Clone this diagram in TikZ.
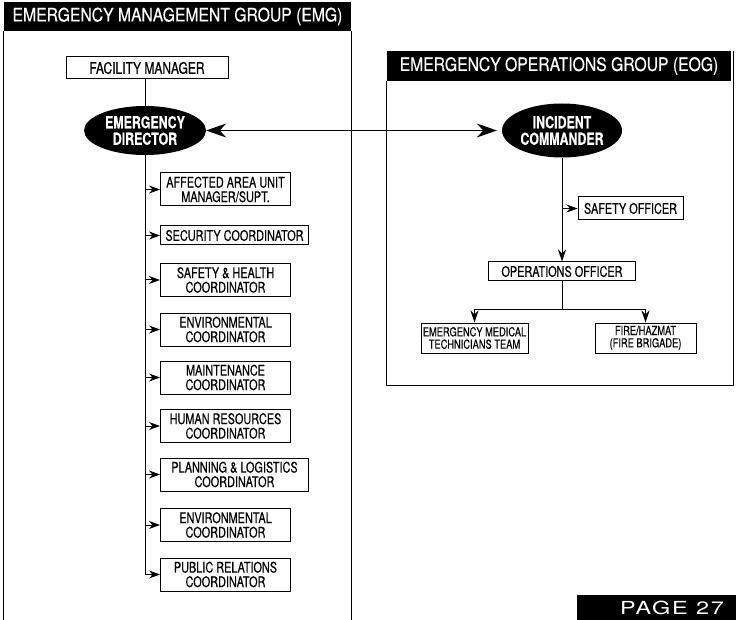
\documentclass[tikz,border=0pt]{standalone}
\usepackage{fontspec}
\setmainfont{TeX Gyre Heros}[FakeStretch=0.75,FakeBold=0.4]
\newfontfamily\headfont{TeX Gyre Heros}[FakeStretch=0.85,FakeBold=0.4]
\newfontfamily\pagefont{TeX Gyre Heros}[FakeStretch=1.3,LetterSpace=10]
\usetikzlibrary{arrows.meta,shapes.geometric}

\tikzset{
  grouphead/.style={fill=black, text=white, inner sep=0pt, font=\headfont\fontsize{18.5}{18.5}\selectfont},
  unitbox/.style={draw, line width=1pt, fill=white, align=center, inner sep=1pt,
    font=\fontsize{14.5}{14.5}\selectfont},
  chief/.style={ellipse, fill=black, text=white, align=center, inner sep=0pt,
    minimum width=122, minimum height=49, font=\bfseries\fontsize{16.5}{16.5}\selectfont},
  link/.style={line width=1pt},
  feed/.style={link, -{Stealth[length=11pt,width=8pt]}},
  feeddown/.style={link, -{Stealth[length=12pt,width=8pt]}},
}

\begin{document}
\begin{tikzpicture}[x=1pt,y=-1pt]
\useasboundingbox (0,0) rectangle (736,620);

% Emergency management group
\node[grouphead, minimum width=347, minimum height=29] (emghead) at (177.5,16.5) {EMERGENCY MANAGEMENT GROUP (EMG)};
\draw[link] (emghead.south west) -- ++(0,590);
\draw[link] (emghead.south east) -- ++(0,590);

\node[unitbox, minimum width=162, minimum height=22, font=\fontsize{16}{16}\selectfont] (facility) at (147,68) {FACILITY MANAGER};
\node[chief] (director) at (145,130.5) {EMERGENCY\\DIRECTOR};
\draw[link] (director.north |- facility.south) -- (director.north);

\node[unitbox, anchor=west, minimum width=130, minimum height=33] (affected) at (160,189.5) {AFFECTED AREA UNIT\\MANAGER/SUPT.};
\node[unitbox, anchor=west, minimum width=148, minimum height=19] (security) at (160,235.5) {SECURITY COORDINATOR};
\node[unitbox, anchor=west, minimum width=130, minimum height=33] (safehealth) at (160,280) {SAFETY \& HEALTH\\COORDINATOR};
\node[unitbox, anchor=west, minimum width=130, minimum height=33] (environ) at (160,329.5) {ENVIRONMENTAL\\COORDINATOR};
\node[unitbox, anchor=west, minimum width=130, minimum height=33] (maintain) at (160,377.5) {MAINTENANCE\\COORDINATOR};
\node[unitbox, anchor=west, minimum width=130, minimum height=33] (humanres) at (160,426) {HUMAN RESOURCES\\COORDINATOR};
\node[unitbox, anchor=west, minimum width=148, minimum height=33] (planning) at (160,474.5) {PLANNING \& LOGISTICS\\COORDINATOR};
\node[unitbox, anchor=west, minimum width=130, minimum height=33] (environtwo) at (160,525) {ENVIRONMENTAL\\COORDINATOR};
\node[unitbox, anchor=west, minimum width=130, minimum height=33] (publicrel) at (160,574.5) {PUBLIC RELATIONS\\COORDINATOR};

\draw[link] (director.south) -- (director.south |- publicrel.west);
\foreach \n in {affected,security,safehealth,environ,maintain,humanres,planning,environtwo,publicrel} {
    \draw[feed] (director.south |- \n.west) -- (\n.west);
}

% Emergency operations group
\node[grouphead, minimum width=344, minimum height=30] (eoghead) at (559,66) {EMERGENCY OPERATIONS GROUP (EOG)};
\draw[link] (eoghead.south west) |- (733,385) -- (733,51);

\node[chief, minimum width=120, minimum height=54] (commander) at (562,130.5) {INCIDENT\\COMMANDER};
\draw[link, {Stealth[length=20pt,width=14pt]}-{Stealth[length=20pt,width=14pt]}, shorten >=5pt] (director) -- (commander);

\node[unitbox, minimum width=105, minimum height=23] (safetyoff) at (630.5,208.5) {SAFETY OFFICER};
\node[unitbox, minimum width=147, minimum height=19] (opsoff) at (562,271.5) {OPERATIONS OFFICER};
\draw[feeddown] (commander.south) -- (opsoff.north);
\draw[feed] (commander.south |- safetyoff.west) -- (safetyoff.west);

\node[unitbox, minimum width=107, minimum height=30, font=\fontsize{12.4}{12.4}\selectfont] (medteam) at (474.5,338) {EMERGENCY MEDICAL\\TECHNICIANS TEAM};
\node[unitbox, minimum width=101, minimum height=30, font=\fontsize{12.4}{12.4}\selectfont] (firebrig) at (645.5,338) {FIRE/HAZMAT\\(FIRE BRIGADE)};
\draw[link] (opsoff.south) -- ++(0,28) coordinate (split);
\draw[feeddown] (split) -| (medteam.north);
\draw[feeddown] (split) -| (firebrig.north);

% page tag
\fill (577,595) rectangle (736,620);
\node[text=white, inner sep=0pt, font=\pagefont\fontsize{18}{18}\selectfont] (pagetag) at (672,607.5) {PAGE 27};
\end{tikzpicture}
\end{document}
